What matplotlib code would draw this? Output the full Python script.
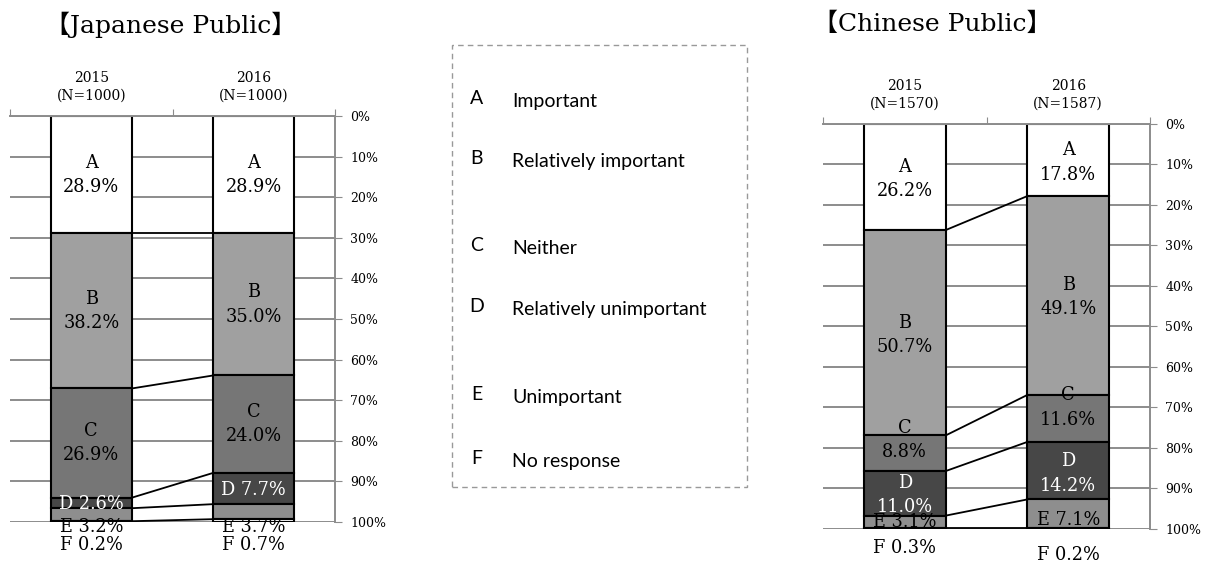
import numpy as np
import matplotlib.pyplot as plt
from matplotlib.patches import Rectangle

plt.rcParams['font.family'] = ['DejaVu Serif', 'Noto Sans CJK JP']

# Datos (porcentajes, orden A..F)
categorias = ['A', 'B', 'C', 'D', 'E', 'F']
significado = ['Important', 'Relatively important', 'Neither',
               'Relatively unimportant', 'Unimportant', 'No response']
anios_jp = ['2015\n(N=1000)', '2016\n(N=1000)']
anios_cn = ['2015\n(N=1570)', '2016\n(N=1587)']
jp_2015 = [28.9, 38.2, 26.9, 2.6, 3.2, 0.2]
jp_2016 = [28.9, 35.0, 24.0, 7.7, 3.7, 0.7]
cn_2015 = [26.2, 50.7, 8.8, 11.0, 3.1, 0.3]
cn_2016 = [17.8, 49.1, 11.6, 14.2, 7.1, 0.2]

colores = ['white', '#a0a0a0', '#767676', '#474747', '#8e8e8e', 'white']
gris = '#8c8c8c'
W = 0.5  # ancho de barra


def panel(ax, series, xlabels, etiquetas):
    # rejilla
    for g in range(0, 101, 10):
        ax.axhline(g, color=gris, lw=1.4, zorder=0)
    for i, vals in enumerate(series):
        base = np.concatenate([[0], np.cumsum(vals)[:-1]])
        ax.bar(i, vals, W, bottom=base, color=colores, edgecolor='black',
               lw=1.5, zorder=2)
    # líneas de conexión entre barras
    c0 = np.cumsum(series[0])[:-1]
    c1 = np.cumsum(series[1])[:-1]
    for a, b in zip(c0, c1):
        ax.plot([W / 2, 1 - W / 2], [a, b], color='black', lw=1.3, zorder=3)
    # etiquetas
    for (i, k, txt, dy, col) in etiquetas:
        vals = series[i]
        base = np.concatenate([[0], np.cumsum(vals)[:-1]])
        if dy > 100:
            y = dy
        else:
            y = base[k] + vals[k] / 2 + dy
        ax.text(i, y, txt, ha='center', va='center', color=col,
                fontsize=12.8, linespacing=1.45, zorder=4, clip_on=False)

    ax.set_xlim(-0.5, 1.5)
    ax.set_ylim(100, 0)
    ax.yaxis.tick_right()
    ax.set_yticks(range(0, 101, 10))
    ax.set_yticklabels([f'{g}%' for g in range(0, 101, 10)])
    ax.tick_params(axis='y', length=5, color=gris, labelsize=9, pad=6)
    ax.xaxis.tick_top()
    ax.set_xticks([-0.5, 0.5, 1.5])
    ax.set_xticklabels([])
    ax.tick_params(axis='x', length=5, color=gris, direction='out')
    for i, lab in enumerate(xlabels):
        ax.text(i, -3.3, lab, ha='center', va='bottom', fontsize=10,
                linespacing=1.3)
    for s in ['left', 'bottom']:
        ax.spines[s].set_visible(False)
    for s in ['top', 'right']:
        ax.spines[s].set_color(gris)
        ax.spines[s].set_linewidth(1.4)


fig = plt.figure(figsize=(12.1, 5.63), dpi=100)

ax1 = fig.add_axes([0.0083, 0.0728, 0.2686, 0.7211])
ets_jp = []
for i, vals in enumerate([jp_2015, jp_2016]):
    for k in range(3):
        ets_jp.append((i, k, f'{categorias[k]}\n{vals[k]:.1f}%', 0, 'black'))
    ets_jp.append((i, 3, f'D {vals[3]:.1f}%', 0.3, 'white'))
    ets_jp.append((i, 4, f'E {vals[4]:.1f}%', 101.2, 'black'))
    ets_jp.append((i, 5, f'F {vals[5]:.1f}%', 105.7, 'black'))
panel(ax1, [jp_2015, jp_2016], anios_jp, ets_jp)

ax2 = fig.add_axes([0.6802, 0.0604, 0.2702, 0.7194])
ets_cn = [
    (0, 0, f'A\n{cn_2015[0]:.1f}%', 0.5, 'black'),
    (0, 1, f'B\n{cn_2015[1]:.1f}%', 0.6, 'black'),
    (0, 2, f'C\n{cn_2015[2]:.1f}%', -3.3, 'black'),
    (0, 3, f'D\n{cn_2015[3]:.1f}%', 0.4, 'white'),
    (0, 4, f'E {cn_2015[4]:.1f}%', 0, 'black'),
    (0, 5, f'F {cn_2015[5]:.1f}%', 104.7, 'black'),
    (1, 0, f'A\n{cn_2016[0]:.1f}%', 0.6, 'black'),
    (1, 1, f'B\n{cn_2016[1]:.1f}%', 0.3, 'black'),
    (1, 2, f'C\n{cn_2016[2]:.1f}%', -2.7, 'black'),
    (1, 3, f'D\n{cn_2016[3]:.1f}%', 0.7, 'white'),
    (1, 4, f'E {cn_2016[4]:.1f}%', 1.5, 'black'),
    (1, 5, f'F {cn_2016[5]:.1f}%', 106.4, 'black'),
]
panel(ax2, [cn_2015, cn_2016], anios_cn, ets_cn)

# títulos
fig.text(0.037, 1 - 25 / 563, '【Japanese Public】', fontsize=18, va='center')
fig.text(0.672, 1 - 24 / 563, '【Chinese Public】', fontsize=18, va='center')

# leyenda
fig.patches.append(Rectangle((452 / 1210, 1 - 487 / 563), 295 / 1210,
                             442 / 563, transform=fig.transFigure,
                             fill=False, edgecolor='#999999', lw=1,
                             ls=(0, (4, 3))))
filas_y = [99, 159, 246, 307, 394, 458]
for cat, sig, y in zip(categorias, significado, filas_y):
    fig.text(477 / 1210, 1 - y / 563, cat, fontsize=14, family='Lato',
             ha='center', va='center')
    fig.text(512 / 1210, 1 - (y + 3) / 563, sig, fontsize=14,
             family='Lato', ha='left', va='center')

plt.savefig('out.png', dpi=100)
